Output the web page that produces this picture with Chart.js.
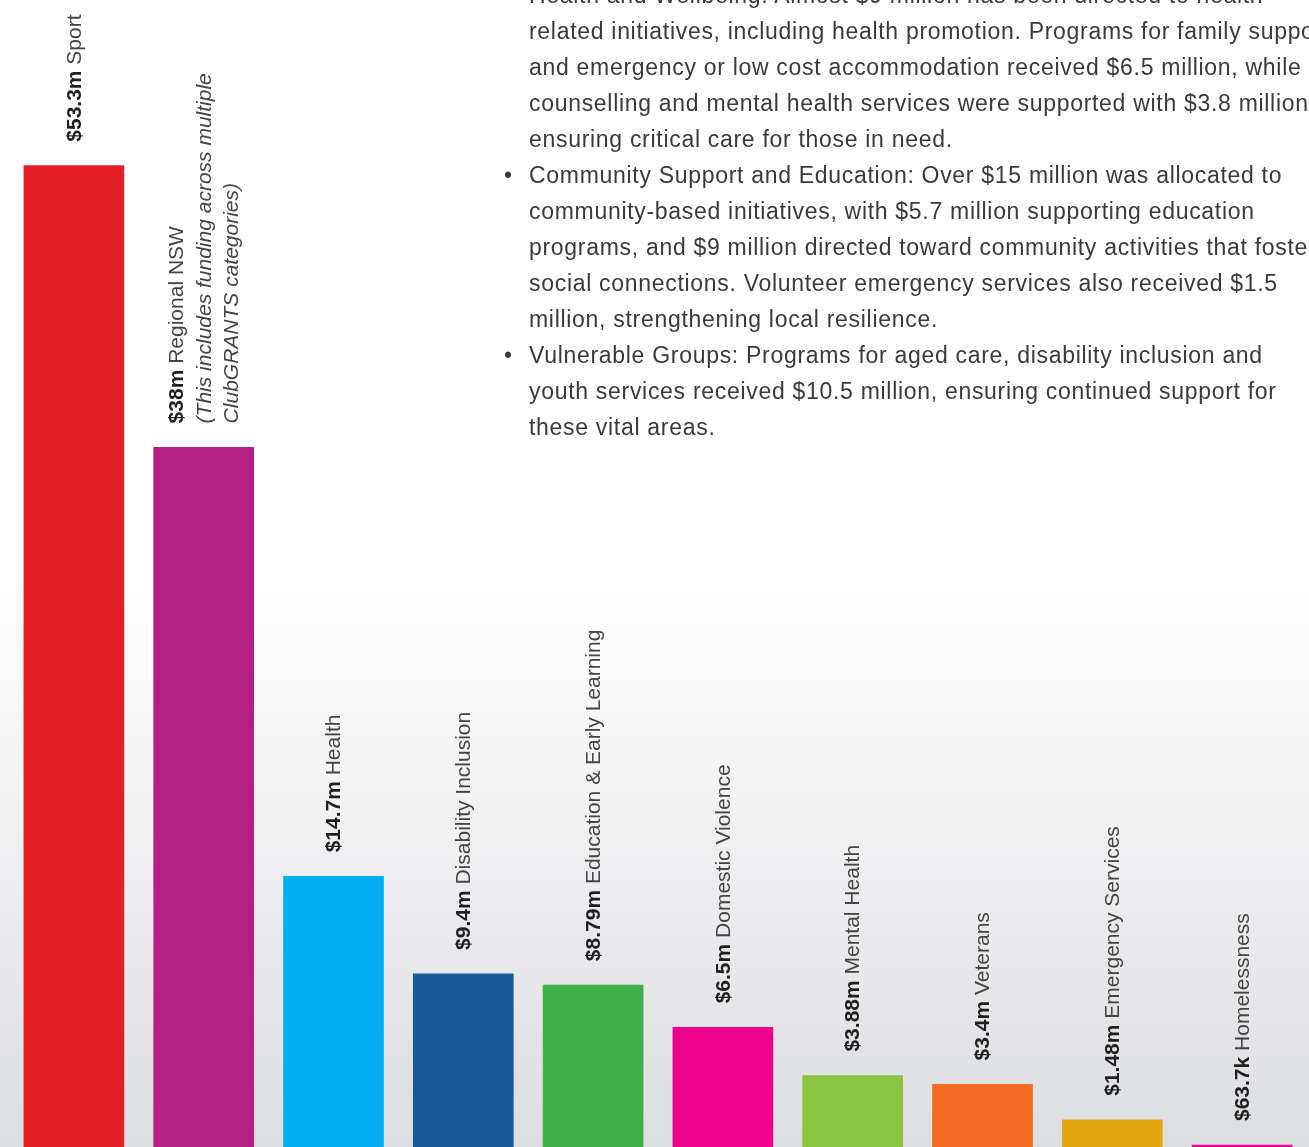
<!DOCTYPE html>
<html>
<head>
<meta charset="utf-8">
<script src="https://cdn.jsdelivr.net/npm/chart.js@4.4.1/dist/chart.umd.min.js"></script>
<style>
    html, body {
        margin: 0;
        padding: 0;
        width: 1309px;
        height: 1147px;
        overflow: hidden;
    }
    body {
        position: relative;
        background: linear-gradient(to bottom, #ffffff 0px, #ffffff 590px, #dcdde0 1147px);
        font-family: "Liberation Sans", Arial, sans-serif;
    }
    #chartBox {
        position: absolute;
        left: 0;
        top: 0;
        width: 1309px;
        height: 1147px;
    }
    #notes {
        position: absolute;
        left: 504px;
        top: -23px;
        margin: 0;
        padding: 0;
        list-style: none;
        font-size: 23px;
        letter-spacing: 0.7px;
        line-height: 36px;
        color: #3a3a3a;
        white-space: nowrap;
    }
    #notes li {
        position: relative;
        padding-left: 25px;
    }
    #notes li::before {
        content: "\2022";
        position: absolute;
        left: 0;
    }
</style>
</head>
<body>
<div id="chartBox"><canvas id="fundingChart"></canvas></div>

<ul id="notes">
    <li>Health and Wellbeing: Almost $9 million has been directed to health<br>related initiatives, including health promotion. Programs for family support<br>and emergency or low cost accommodation received $6.5 million, while<br>counselling and mental health services were supported with $3.8 million,<br>ensuring critical care for those in need.</li>
    <li>Community Support and Education: Over $15 million was allocated to<br>community-based initiatives, with $5.7 million supporting education<br>programs, and $9 million directed toward community activities that foster<br>social connections. Volunteer emergency services also received $1.5<br>million, strengthening local resilience.</li>
    <li>Vulnerable Groups: Programs for aged care, disability inclusion and<br>youth services received $10.5 million, ensuring continued support for<br>these vital areas.</li>
</ul>

<script>
// ClubGRANTS funding by category
const categories = ['Sport', 'Regional NSW', 'Health', 'Disability Inclusion', 'Education & Early Learning',
    'Domestic Violence', 'Mental Health', 'Veterans', 'Emergency Services', 'Homelessness'];
const valueLabels = ['$53.3m', '$38m', '$14.7m', '$9.4m', '$8.79m', '$6.5m', '$3.88m', '$3.4m', '$1.48m', '$63.7k'];
const fundingMillions = [53.3, 38, 14.7, 9.4, 8.79, 6.5, 3.88, 3.4, 1.48, 0.0637];
const regionalNote = ['(This includes funding across multiple', 'ClubGRANTS categories)'];
const barColours = ['#e31f26', '#b41f83', '#00aeef', '#195a99', '#40ae4a',
    '#ec008c', '#8bc441', '#f26b22', '#e3a713', '#ec008c'];

// Rotated labels sitting above each bar
const barLabels = {
    id: 'barLabels',
    afterDatasetsDraw(chart) {
        const ctx = chart.ctx;
        const meta = chart.getDatasetMeta(0);
        meta.data.forEach((bar, i) => {
            const lines = [{ bold: valueLabels[i], text: ' ' + categories[i], italic: false }];
            if (i === 1) {
                regionalNote.forEach(t => lines.push({ bold: '', text: t, italic: true }));
            }
            ctx.save();
            ctx.translate(bar.x + 1, bar.y - 24);
            ctx.rotate(-Math.PI / 2);
            ctx.textBaseline = 'middle';
            ctx.textAlign = 'left';
            lines.forEach((line, j) => {
                const offset = (j - (lines.length - 1) / 2) * 27;
                let x = 0;
                if (line.bold) {
                    ctx.font = 'bold 21px "Liberation Sans", Arial, sans-serif';
                    ctx.fillStyle = '#231f20';
                    ctx.fillText(line.bold, x, offset);
                    x += ctx.measureText(line.bold).width;
                }
                ctx.font = (line.italic ? 'italic ' : '') + '21px "Liberation Sans", Arial, sans-serif';
                ctx.fillStyle = '#444444';
                ctx.fillText(line.text, x, offset);
            });
            ctx.restore();
        });
    }
};

const ctx = document.getElementById('fundingChart').getContext('2d');
new Chart(ctx, {
    type: 'bar',
    data: {
        labels: categories,
        datasets: [{
            data: fundingMillions,
            backgroundColor: barColours,
            borderWidth: 0,
            barThickness: 100,
            minBarLength: 2
        }]
    },
    options: {
        responsive: true,
        maintainAspectRatio: false,
        animation: false,
        layout: { padding: { left: 9, right: 2, top: 0, bottom: 0 } },
        plugins: {
            legend: { display: false },
            tooltip: { enabled: false }
        },
        scales: {
            x: { display: false },
            y: { display: false, min: 0, max: 62.3 }
        }
    },
    plugins: [barLabels]
});
</script>
</body>
</html>
